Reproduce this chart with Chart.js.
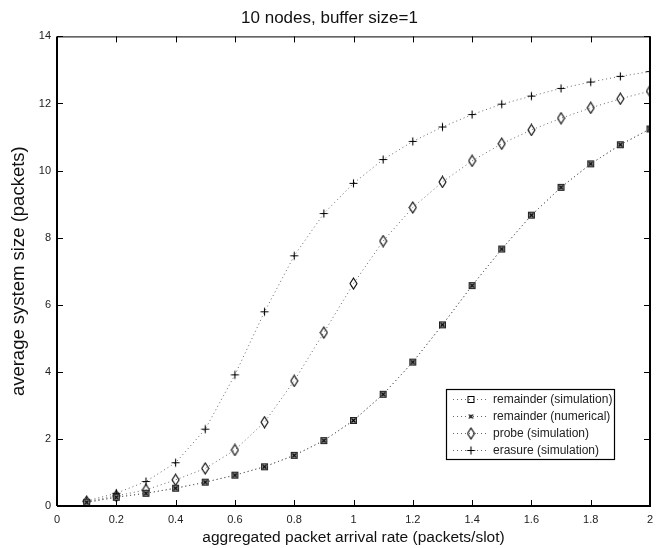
<!DOCTYPE html>
<html>
<head>
<meta charset="utf-8">
<script src="https://cdn.jsdelivr.net/npm/chart.js@4/dist/chart.umd.min.js"></script>
<style>
html,body{margin:0;padding:0;background:#fff;}
#wrap{width:656px;height:548px;position:relative;}
</style>
</head>
<body>
<div id="wrap"><canvas id="c" width="656" height="548"></canvas></div>
<script>
const arrivalRates = [0.1,0.2,0.3,0.4,0.5,0.6,0.7,0.8,0.9,1.0,1.1,1.2,1.3,1.4,1.5,1.6,1.7,1.8,1.9,2.0];
const remainderSim = [0.11,0.26,0.38,0.53,0.71,0.92,1.17,1.51,1.95,2.55,3.33,4.29,5.40,6.57,7.66,8.67,9.50,10.20,10.77,11.24];
const remainderNum = [0.11,0.26,0.38,0.53,0.71,0.92,1.17,1.51,1.95,2.55,3.33,4.29,5.40,6.57,7.66,8.67,9.50,10.20,10.77,11.24];
const probeSim = [0.13,0.30,0.48,0.78,1.12,1.67,2.50,3.73,5.17,6.63,7.90,8.90,9.66,10.29,10.80,11.21,11.56,11.87,12.14,12.37];
const erasureSim = [0.15,0.38,0.73,1.29,2.29,3.91,5.79,7.46,8.72,9.62,10.33,10.87,11.30,11.67,11.98,12.22,12.45,12.64,12.81,12.95];
const xTicks = [0,0.2,0.4,0.6,0.8,1,1.2,1.4,1.6,1.8,2];
const yTicks = [0,2,4,6,8,10,12,14];
const seriesNames = ['remainder (simulation)','remainder (numerical)','probe (simulation)','erasure (simulation)'];

function mk(w,h,draw){const c=document.createElement('canvas');c.width=w;c.height=h;const g=c.getContext('2d');draw(g);return c;}
const sqImg = mk(9,9,g=>{g.fillStyle='#9a9a9a';g.fillRect(1,1,7,7);g.strokeStyle='#222';g.lineWidth=1;g.strokeRect(1.5,1.5,6,6);});
const xImg = mk(7,7,g=>{g.strokeStyle='#000';g.lineWidth=1.1;g.beginPath();g.moveTo(1.5,1.5);g.lineTo(5.5,5.5);g.moveTo(5.5,1.5);g.lineTo(1.5,5.5);g.stroke();});
const diaImg = mk(9,13,g=>{g.strokeStyle='#000';g.lineWidth=1.1;g.beginPath();g.moveTo(4.5,1);g.lineTo(8,6.5);g.lineTo(4.5,12);g.lineTo(1,6.5);g.closePath();g.stroke();});
const plusImg = mk(11,11,g=>{g.strokeStyle='#000';g.lineWidth=1.1;g.beginPath();g.moveTo(5.5,1.5);g.lineTo(5.5,9.5);g.moveTo(1.5,5.5);g.lineTo(9.5,5.5);g.stroke();});
const sqLeg = mk(9,9,g=>{g.strokeStyle='#000';g.lineWidth=1;g.strokeRect(1.5,1.5,6,6);});

function pts(ys){return arrivalRates.map((x,i)=>({x:x,y:ys[i]}));}
function ds(label,ys,img,order,legImg){
  return {label:label,data:pts(ys),borderColor:'#666',borderWidth:1,borderDash:[1,3],order:order,
    pointStyle:img,pointRadius:5,pointHoverRadius:5,legImg:legImg||img,fill:false,tension:0};
}

const boxTicks = {
  id:'boxTicks',
  afterDraw(chart){
    const {ctx,chartArea:a,scales:{x,y}} = chart;
    ctx.save();
    ctx.strokeStyle='#000';ctx.lineWidth=1;
    ctx.strokeRect(a.left+0.5,a.top+0.5,a.right-a.left-1,a.bottom-a.top-1);
    ctx.beginPath();
    xTicks.forEach(v=>{const px=Math.round(x.getPixelForValue(v))+0.5;ctx.moveTo(px,a.bottom);ctx.lineTo(px,a.bottom-6);ctx.moveTo(px,a.top);ctx.lineTo(px,a.top+6);});
    yTicks.forEach(v=>{const py=Math.round(y.getPixelForValue(v))+0.5;ctx.moveTo(a.left,py);ctx.lineTo(a.left+6,py);ctx.moveTo(a.right,py);ctx.lineTo(a.right-6,py);});
    ctx.stroke();
    ctx.lineWidth=2;
    ctx.beginPath();ctx.moveTo(a.left,a.bottom);ctx.lineTo(a.right,a.bottom);ctx.moveTo(a.left,a.top);ctx.lineTo(a.left,a.bottom);ctx.moveTo(a.right,a.top);ctx.lineTo(a.right,a.bottom);ctx.stroke();
    // legend
    const lx=446, ly=389, lw=168, lh=70;
    ctx.fillStyle='#fff';ctx.fillRect(lx,ly,lw,lh);
    ctx.lineWidth=1.2;ctx.strokeStyle='#000';ctx.strokeRect(lx+0.5,ly+0.5,lw,lh);
    ctx.font='12px "Liberation Sans", Arial, sans-serif';ctx.textBaseline='middle';
    seriesNames.forEach((name,i)=>{
      const d=chart.data.datasets[i];
      const yy=ly+10.5+i*17;
      ctx.strokeStyle='#666';ctx.lineWidth=1;ctx.setLineDash([1,3]);
      ctx.beginPath();ctx.moveTo(453,yy);ctx.lineTo(488,yy);ctx.stroke();ctx.setLineDash([]);
      const im=d.legImg;ctx.drawImage(im,471-im.width/2,yy-im.height/2);
      ctx.fillStyle='#222';ctx.fillText(name,493,yy+0.5);
    });
    ctx.restore();
  }
};

new Chart(document.getElementById('c'),{
  type:'line',
  data:{datasets:[
    ds(seriesNames[0],remainderSim,sqImg,1,sqLeg),
    ds(seriesNames[1],remainderNum,xImg,0),
    ds(seriesNames[2],probeSim,diaImg,2),
    ds(seriesNames[3],erasureSim,plusImg,3)
  ]},
  options:{
    responsive:false,animation:false,
    layout:{padding:{left:0,right:-3,top:0,bottom:0}},
    plugins:{
      legend:{display:false},tooltip:{enabled:false},
      title:{display:true,text:'10 nodes, buffer size=1',color:'#111',
        font:{family:'"Liberation Sans", Arial, sans-serif',size:17,weight:'normal',lineHeight:1.2},
        padding:{top:8,bottom:8}}
    },
    scales:{
      x:{type:'linear',min:0,max:2,
        afterBuildTicks(s){s.ticks=xTicks.map(v=>({value:v}));},
        afterFit(s){s.height=42;s.paddingLeft=0;s.paddingRight=0;},
        grid:{display:false,drawTicks:false},border:{display:true,color:'#000',width:1},
        ticks:{color:'#222',padding:7,maxRotation:0,autoSkip:false,
          font:{family:'"Liberation Sans", Arial, sans-serif',size:11},
          callback:v=>String(v)},
        title:{display:true,text:'aggregated packet arrival rate (packets/slot)',color:'#111',
          font:{family:'"Liberation Sans", Arial, sans-serif',size:15.5,lineHeight:1.2},padding:{top:0,bottom:1}}
      },
      y:{type:'linear',min:0,max:14,
        afterBuildTicks(s){s.ticks=yTicks.map(v=>({value:v}));},
        afterFit(s){s.width=57;s.paddingTop=0;s.paddingBottom=0;},
        grid:{display:false,drawTicks:false},border:{display:true,color:'#000',width:1},
        ticks:{color:'#222',padding:6,autoSkip:false,
          font:{family:'"Liberation Sans", Arial, sans-serif',size:11},
          callback:v=>String(v)},
        title:{display:true,text:'average system size (packets)',color:'#111',
          font:{family:'"Liberation Sans", Arial, sans-serif',size:18.5,lineHeight:1.2},padding:{top:8,bottom:0}}
      }
    }
  },
  plugins:[boxTicks]
});
</script>
</body>
</html>
